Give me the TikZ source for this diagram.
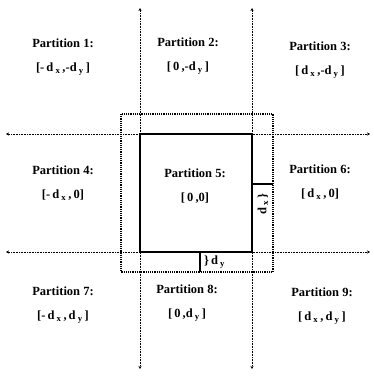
\documentclass[tikz,border=0pt]{standalone}
\usepackage{fontspec}
\setmainfont{Liberation Serif}
\usetikzlibrary{arrows.meta}
\begin{document}
\begin{tikzpicture}[x=1pt,y=-1pt,
  guide/.style={densely dotted, line width=0.6pt, {Stealth[length=3pt,width=3pt]}-{Stealth[length=3pt,width=3pt]}},
  outerbox/.style={densely dotted, line width=1.2pt},
  innerbox/.style={line width=1.4pt},
  tick/.style={line width=1.4pt},
  lab/.style={font=\bfseries\fontsize{12.5}{15}\selectfont, align=center, inner sep=0pt}
]
\useasboundingbox[fill=white] (0,0) rectangle (374,377);
% guide lines
\coordinate (vt1) at (140,8);   \coordinate (vb1) at (140,369);
\coordinate (vt2) at (252,8);   \coordinate (vb2) at (252,369);
\coordinate (hl1) at (6,134);   \coordinate (hr1) at (370,134);
\coordinate (hl2) at (6,252);   \coordinate (hr2) at (370,252);
\draw[guide] (vt1) -- (vb1);
\draw[guide] (vt2) -- (vb2);
\draw[guide] (hl1) -- (hr1);
\draw[guide] (hl2) -- (hr2);
% boxes
\draw[outerbox] (121,114) rectangle (273,272);
\draw[innerbox] (140,134) rectangle (252,252);
% ticks
\coordinate (tb1) at (200,252); \coordinate (tb2) at (200,272);
\draw[tick] (tb1) -- (tb2);
\coordinate (tr1) at (252,184); \coordinate (tr2) at (273,184);
\draw[tick] (tr1) -- (tr2);
\node[lab, anchor=west] (dy) at (204,262) {\}\,d\,\textsubscript{y}};
\node[lab, rotate=90] (dx) at (263,204) {d\,\textsubscript{x}\,\}};
% partition labels
\node[lab] (p1) at (63,57) {Partition 1:\\[9pt]{[-\,d\,\textsubscript{x}\,,-d\,\textsubscript{y}\,]}};
\node[lab] (p2) at (188,56) {Partition 2:\\[9pt]{[\,0\,,-d\,\textsubscript{y}\,]}};
\node[lab] (p3) at (320,60) {Partition 3:\\[9pt]{[\,d\,\textsubscript{x}\,,-d\,\textsubscript{y}\,]}};
\node[lab] (p4) at (63,183) {Partition 4:\\[9pt]{[-\,d\,\textsubscript{x}\,,\,0]}};
\node[lab] (p5) at (195,186) {Partition 5:\\[9pt]{[\,0\,,0]}};
\node[lab] (p6) at (320,182) {Partition 6:\\[9pt]{[\,d\,\textsubscript{x}\,,\,0]}};
\node[lab] (p7) at (63,305) {Partition 7:\\[9pt]{[-\,d\,\textsubscript{x}\,,\,d\,\textsubscript{y}\,]}};
\node[lab] (p8) at (187,303) {Partition 8:\\[9pt]{[\,0\,,d\,\textsubscript{y}\,]}};
\node[lab] (p9) at (322,306) {Partition 9:\\[9pt]{[\,d\,\textsubscript{x}\,,\,d\,\textsubscript{y}\,]}};
\end{tikzpicture}
\end{document}
